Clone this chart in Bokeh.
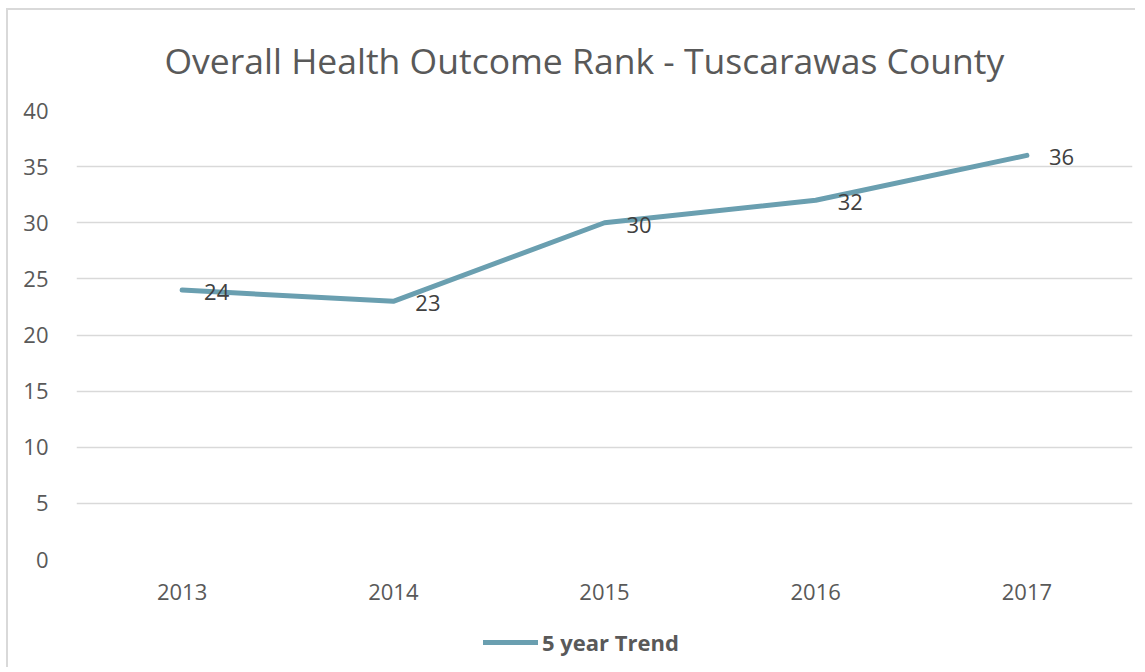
from bokeh.plotting import figure
from bokeh.layouts import column
from bokeh.models import ColumnDataSource, LabelSet, FixedTicker, Legend, LegendItem, Range1d
from bokeh.core.properties import value
from bokeh.embed import file_html
from bokeh.resources import INLINE

years = ["2013", "2014", "2015", "2016", "2017"]
rank = [24, 23, 30, 32, 36]
y_ticks = [0, 5, 10, 15, 20, 25, 30, 35, 40]
title_text = "Overall Health Outcome Rank - Tuscarawas County"
series_name = "5 year Trend"

LINE_COLOR = "#6A9FB0"
src = ColumnDataSource(dict(x=years, y=rank, lab=[str(v) for v in rank]))

p = figure(x_range=years, y_range=(0, 40), width=1129, height=609,
           output_backend="svg", toolbar_location=None,
           min_border_left=68, min_border_right=5, min_border_top=98, min_border_bottom=60)
p.outline_line_color = None
p.background_fill_color = "white"

p.title.text = title_text
p.title.align = "left"
p.title.offset = 88
p.title.vertical_align = "top"
p.title.text_font = "Open Sans"
p.title.text_font_style = "normal"
p.title.text_font_size = "35.5px"
p.title.text_color = "#595959"
p.title.standoff = 50

p.line("x", "y", source=src, line_color=LINE_COLOR, line_width=5, line_cap="round", line_join="round")

labels = LabelSet(x="x", y="y", text="lab", source=src, x_offset=22, y_offset=-2,
                  text_align="left", text_baseline="middle", text_font=value("Open Sans"),
                  text_font_size="22px", text_color="#404040")
p.add_layout(labels)

p.yaxis.ticker = FixedTicker(ticks=y_ticks)
for ax in (p.xaxis[0], p.yaxis[0]):
    ax.axis_line_color = None
    ax.major_tick_line_color = None
    ax.minor_tick_line_color = None
    ax.major_label_text_font = "Open Sans"
    ax.major_label_text_font_size = "22px"
    ax.major_label_text_color = "#595959"
p.yaxis.major_label_standoff = 22
p.xaxis.major_label_standoff = 18
p.xgrid.grid_line_color = None
p.ygrid.grid_line_color = "#d9d9d9"
p.ygrid.grid_line_width = 1.5

# legend strip below the chart (its sample line lies outside the visible range)
lg = figure(width=1129, height=50, x_range=Range1d(0, 1), y_range=Range1d(0, 1),
            x_axis_type=None, y_axis_type=None, output_backend="svg", toolbar_location=None,
            min_border_left=0, min_border_right=0, min_border_top=0, min_border_bottom=0)
lg.outline_line_color = None
lg.grid.grid_line_color = None
dummy = lg.line(x=[5, 6], y=[5, 6], line_color=LINE_COLOR, line_width=5, line_cap="round")
legend = Legend(items=[LegendItem(label=series_name, renderers=[dummy])],
                orientation="horizontal", location=(407, 12),
                label_text_font="Open Sans", label_text_font_style="bold",
                label_text_font_size="22px", label_text_color="#595959",
                glyph_width=55, label_standoff=4, border_line_color=None,
                background_fill_alpha=0, margin=0, padding=4)
lg.add_layout(legend)

layout = column(p, lg, spacing=0)
layout.styles = {"margin-left": "8px", "margin-top": "10px", "background-color": "white",
                 "box-shadow": "-2px -2px 0 0 #d9d9d9"}

open("out.html", "w").write(file_html(layout, INLINE))
